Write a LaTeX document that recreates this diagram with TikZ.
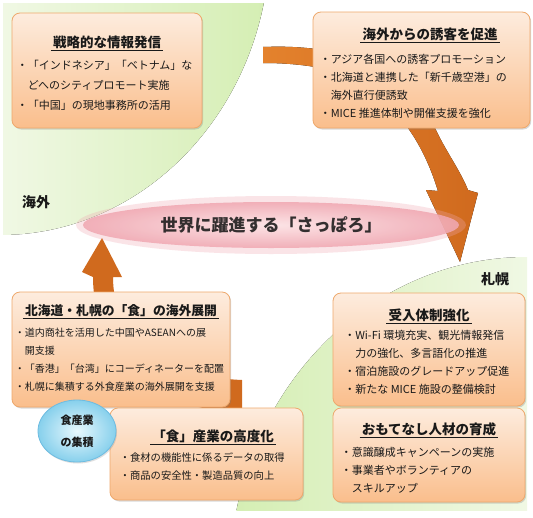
\documentclass[tikz,border=0pt]{standalone}
\usepackage{fontspec}
\setmainfont{Noto Sans CJK JP}
\usepackage{xcolor}
\usetikzlibrary{positioning,shadows,shapes.geometric}

\definecolor{ink}{RGB}{25,25,25}
\definecolor{cardtop}{RGB}{253,236,222}
\definecolor{cardbot}{RGB}{250,190,140}
\definecolor{cardline}{RGB}{238,168,108}
\definecolor{arrowlight}{RGB}{228,130,45}
\definecolor{arrowdark}{RGB}{208,106,30}
\definecolor{greenpale}{RGB}{240,248,228}
\definecolor{greenmid}{RGB}{212,238,178}
\definecolor{pinkin}{RGB}{253,228,230}
\definecolor{pinkout}{RGB}{240,168,178}
\definecolor{bluein}{RGB}{232,248,253}
\definecolor{blueout}{RGB}{135,208,236}
\definecolor{blueline}{RGB}{110,188,225}

\begin{document}
\begin{tikzpicture}[x=1pt,y=-1pt,
  card/.style={draw=cardline,line width=0.8pt,rounded corners=8pt,
    top color=cardtop,bottom color=cardbot,inner sep=0pt,
    drop shadow={shadow xshift=1.2pt,shadow yshift=-1.5pt,opacity=.3}},
  cardtitle/.style={font=\fontsize{13.5}{16}\selectfont\bfseries,inner sep=0pt,text=ink},
  cardbody/.style={font=\fontsize{11}{18}\selectfont,align=left,inner sep=0pt,text=ink},
  titlerule/.style={draw=ink,line width=0.9pt,shorten <=-2pt,shorten >=-2pt},
  area/.style={font=\fontsize{14}{16}\selectfont\bfseries,text=ink},
  bigarrow/.style={left color=arrowlight,right color=arrowdark}]
  \fill[white] (0,0) rectangle (533,517);
  \useasboundingbox (0,0) rectangle (533,517);

  % green areas
  \begin{scope}
    \clip (0,-60) ellipse [x radius=270,y radius=295];
    \fill[left color=greenpale,right color=greenmid] (3,3) rectangle (272,238);
  \end{scope}
  \begin{scope}
    \clip (527,577) ellipse [x radius=297,y radius=320];
    \fill[left color=greenmid,right color=greenpale] (228,255) rectangle (527,510);
  \end{scope}

  % big arrows
  \fill[bigarrow] (263,47) .. controls (380,42) and (425,95) .. (435,128)
    .. controls (445,150) and (460,170) .. (468,190) -- (478,193) -- (460,262)
    -- (426,190) -- (438,191) .. controls (430,165) and (420,145) .. (408,128)
    .. controls (390,85) and (340,63) .. (263,63) -- cycle;
  \fill[arrowdark] (242,380) .. controls (150,376) and (113,330) .. (113,277)
    -- (122,277) -- (102,238) -- (82,272) -- (93,277)
    .. controls (93,350) and (150,412) .. (242,412) -- cycle;

  % centre
  \node[ellipse,minimum width=390pt,minimum height=58pt,fill=pinkout,fill opacity=.3] (halo) at (271,225) {};
  \node[ellipse,minimum width=376pt,minimum height=46pt,inner color=pinkin,outer color=pinkout,
    fill opacity=.88,text=ink,font=\fontsize{17}{20}\selectfont\bfseries] (world) at (271,225)
    {世界に躍進する「さっぽろ」};

  \node[area] (abroad) at (36,202) {海外};
  \node[area] (home) at (495,279) {札幌};

  % top left
  \node[card,minimum width=190pt,minimum height=115pt] (b1) at (107,70.5) {};
  \node[cardtitle,below=23pt of b1.north] (t1) {戦略的な情報発信};
  \draw[titlerule] ([yshift=-1.5pt]t1.south west) -- ([yshift=-1.5pt]t1.south east);
  \node[cardbody,font=\fontsize{11}{20}\selectfont,below right=47.5pt and 5pt of b1.north west] (l1)
    {・「インドネシア」「ベトナム」な\\\hspace*{1em}どへのシティプロモート実施\\・「中国」の現地事務所の活用};

  % top right
  \node[card,minimum width=217pt,minimum height=116pt] (b2) at (421.5,70) {};
  \node[cardtitle,below=16pt of b2.north,xshift=8.5pt] (t2) {海外からの誘客を促進};
  \draw[titlerule] ([yshift=-1.5pt]t2.south west) -- ([yshift=-1.5pt]t2.south east);
  \node[cardbody,below right=42.5pt and 7pt of b2.north west] (l2)
    {・アジア各国への誘客プロモーション\\・北海道と連携した「新千歳空港」の\\\hspace*{1em}海外直行便誘致\\・MICE 推進体制や開催支援を強化};

  % left middle
  \node[card,minimum width=218pt,minimum height=115pt] (b3) at (121,349.5) {};
  \node[cardtitle,font=\fontsize{12.8}{15}\selectfont\bfseries,below=12.5pt of b3.north] (t3)
    {北海道・札幌の「食」の海外展開};
  \draw[titlerule] ([yshift=-1.5pt]t3.south west) -- ([yshift=-1.5pt]t3.south east);
  \node[cardbody,font=\fontsize{10}{18}\selectfont,below right=36pt and 3pt of b3.north west] (l3)
    {・道内商社を活用した中国やASEANへの展\\\hspace*{1em}開支援\\・「香港」「台湾」にコーディネーターを配置\\・札幌に集積する外食産業の海外展開を支援};

  % bottom middle
  \node[card,minimum width=193pt,minimum height=92pt] (b4) at (206.5,454) {};
  \node[cardtitle,below=22pt of b4.north,xshift=6.5pt] (t4) {「食」産業の高度化};
  \draw[titlerule] ([yshift=-1.5pt]t4.south west) -- ([yshift=-1.5pt]t4.south east);
  \node[cardbody,font=\fontsize{10.3}{18}\selectfont,below right=45pt and 10pt of b4.north west] (l4)
    {・食材の機能性に係るデータの取得\\・商品の安全性・製造品質の向上};

  % right
  \node[card,minimum width=192pt,minimum height=113pt] (b5) at (429,349.5) {};
  \node[cardtitle,below=16pt of b5.north] (t5) {受入体制強化};
  \draw[titlerule] ([yshift=-1.5pt]t5.south west) -- ([yshift=-1.5pt]t5.south east);
  \node[cardbody,below right=37.5pt and 11.5pt of b5.north west] (l5)
    {・Wi-Fi 環境充実、観光情報発信\\\hspace*{1em}力の強化、多言語化の推進\\・宿泊施設のグレードアップ促進\\・新たな MICE 施設の整備検討};

  \node[card,minimum width=192pt,minimum height=94pt] (b6) at (429,455) {};
  \node[cardtitle,below=15pt of b6.north] (t6) {おもてなし人材の育成};
  \draw[titlerule] ([yshift=-1.5pt]t6.south west) -- ([yshift=-1.5pt]t6.south east);
  \node[cardbody,below right=39.5pt and 8pt of b6.north west] (l6)
    {・意識醸成キャンペーンの実施\\・事業者やボランティアの\\\hspace*{1em}スキルアップ};

  % cluster
  \node[ellipse,minimum width=78pt,minimum height=62pt,draw=blueline,line width=0.8pt,
    inner color=bluein,outer color=blueout,align=center,text=ink,
    font=\fontsize{11}{22}\selectfont\bfseries,
    drop shadow={shadow xshift=1pt,shadow yshift=-1.5pt,opacity=.25}] (hub) at (77,431)
    {食産業\\の集積};
\end{tikzpicture}
\end{document}
